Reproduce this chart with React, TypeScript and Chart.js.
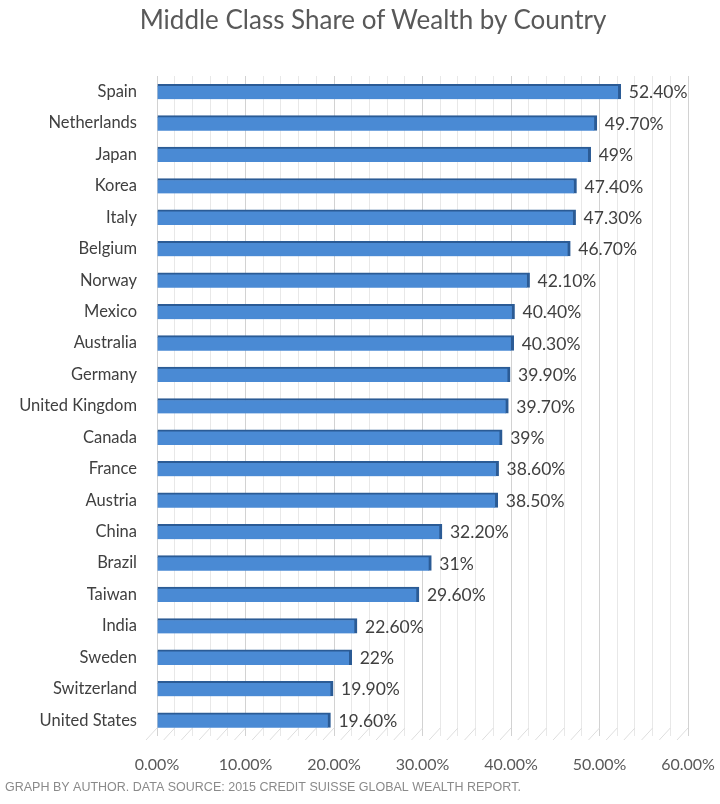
import React, { useRef, useEffect } from 'react';
import { Chart, registerables } from 'chart.js';

Chart.register(...registerables);

const countries = [
  'Spain', 'Netherlands', 'Japan', 'Korea', 'Italy', 'Belgium', 'Norway',
  'Mexico', 'Australia', 'Germany', 'United Kingdom', 'Canada', 'France',
  'Austria', 'China', 'Brazil', 'Taiwan', 'India', 'Sweden', 'Switzerland',
  'United States',
];
const shares = [
  52.4, 49.7, 49, 47.4, 47.3, 46.7, 42.1, 40.4, 40.3, 39.9, 39.7, 39, 38.6,
  38.5, 32.2, 31, 29.6, 22.6, 22, 19.9, 19.6,
];
const labeledTicks = [0, 10, 20, 30, 40, 50, 60];

const FONT = 'Lato, "Open Sans", sans-serif';

// Excel shows whole numbers without decimals ("49%") and the rest with two.
const fmtValue = (v: number) => (Number.isInteger(v) ? `${v}%` : `${v.toFixed(2)}%`);

const valueLabels = {
  id: 'valueLabels',
  afterDatasetsDraw(chart: any) {
    const { ctx } = chart;
    const meta = chart.getDatasetMeta(0);
    ctx.save();
    ctx.font = `17.5px ${FONT}`;
    ctx.fillStyle = '#404040';
    ctx.textAlign = 'left';
    ctx.textBaseline = 'middle';
    meta.data.forEach((bar: any, i: number) => {
      ctx.fillText(fmtValue(shares[i]), bar.x + 8, bar.y + 1);
    });
    ctx.restore();
  },
};

// slanted floor lines under the back wall, to hint at the 3D look
const floorLines = {
  id: 'floorLines',
  beforeDatasetsDraw(chart: any) {
    const { ctx, chartArea } = chart;
    const x = chart.scales.x;
    ctx.save();
    ctx.strokeStyle = '#dedede';
    ctx.lineWidth = 1;
    x.ticks.forEach((t: any) => {
      const px = x.getPixelForValue(t.value);
      ctx.beginPath();
      ctx.moveTo(px, chartArea.bottom - 8);
      ctx.lineTo(px - 11, chartArea.bottom + 4);
      ctx.stroke();
    });
    ctx.restore();
  },
};

function WealthChart() {
  const chartRef = useRef<HTMLCanvasElement>(null);
  const chartInstance = useRef<any>(null);

  useEffect(() => {
    const ctx = chartRef.current!.getContext('2d')!;
    if (chartInstance.current) chartInstance.current.destroy();

    chartInstance.current = new Chart(ctx, {
      type: 'bar',
      data: {
        labels: countries,
        datasets: [
          {
            data: shares,
            backgroundColor: '#4a8ad4',
            borderColor: '#2b5b95',
            borderWidth: { top: 2, right: 3, bottom: 0, left: 0 },
            barThickness: 15,
          },
        ],
      },
      options: {
        indexAxis: 'y',
        responsive: false,
        animation: false,
        layout: { padding: { left: 5, right: 32, top: 76, bottom: 0 } },
        plugins: {
          legend: { display: false },
          tooltip: { enabled: false },
          title: { display: false },
          subtitle: {
            display: true,
            position: 'bottom',
            align: 'start',
            text: 'GRAPH BY AUTHOR. DATA SOURCE: 2015 CREDIT SUISSE GLOBAL WEALTH REPORT.',
            color: '#8a8a8a',
            font: { family: '"Liberation Sans Narrow", "Liberation Sans", sans-serif', size: 12.5 },
            padding: { top: 0, bottom: 9 },
          },
        },
        scales: {
          x: {
            min: 0,
            max: 60,
            ticks: {
              stepSize: 2,
              autoSkip: false,
              maxRotation: 0,
              padding: 19,
              color: '#595959',
              font: { family: FONT, size: 16 },
              callback: (v: any) => (labeledTicks.includes(v) ? `${Number(v).toFixed(2)}%` : ''),
            },
            grid: {
              drawTicks: false,
              color: (c: any) => (c.tick && c.tick.value % 10 === 0 ? '#d2d2d2' : '#e8e8e8'),
            },
            border: { display: false },
            afterFit: (scale: any) => {
              scale.height = 44;
              scale.paddingLeft = 0;
              scale.paddingRight = 0;
            },
          },
          y: {
            ticks: {
              padding: 20,
              color: '#404040',
              font: { family: FONT, size: 16.5 },
            },
            grid: { display: false, drawTicks: false },
            border: { display: false },
            afterFit: (scale: any) => {
              scale.width = 152;
            },
          },
        },
      },
      plugins: [floorLines, valueLabels],
    });

    return () => {
      if (chartInstance.current) {
        chartInstance.current.destroy();
        chartInstance.current = null;
      }
    };
  }, []);

  return <canvas ref={chartRef} width={720} height={804}></canvas>;
}

export default function App() {
  return (
    <div style={{ position: 'absolute', left: 0, top: 0, width: 720, height: 804, background: '#fff' }}>
      <div
        style={{
          position: 'absolute',
          left: 0,
          top: 3,
          width: 720,
          paddingLeft: 26,
          boxSizing: 'border-box',
          textAlign: 'center',
          fontFamily: FONT,
          fontSize: 26,
          lineHeight: '32px',
          color: '#595959',
        }}
      >
        Middle Class Share of Wealth by Country
      </div>
      <WealthChart />
    </div>
  );
}
